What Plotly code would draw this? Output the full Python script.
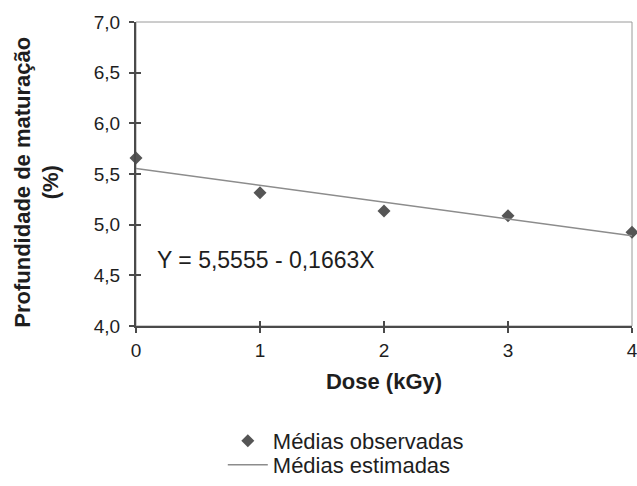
import plotly.graph_objects as go

# Observed means by irradiation dose
dose = [0, 1, 2, 3, 4]
observed = [5.657, 5.314, 5.135, 5.089, 4.925]

# Fitted linear regression
intercept = 5.5555
slope = -0.1663
fit_x = [0, 4]
fit_y = [intercept + slope * x for x in fit_x]

x_ticks = [0, 1, 2, 3, 4]
y_ticks = [4.0, 4.5, 5.0, 5.5, 6.0, 6.5, 7.0]

FONT = "Liberation Sans, Arial, sans-serif"
AXIS_COLOR = "#4a4a4a"
TEXT_COLOR = "#1e1e1e"

fig = go.Figure()
fig.add_trace(go.Scatter(
    x=dose, y=observed, mode="markers", name="Médias observadas",
    marker=dict(symbol="diamond", size=10, color="#555555"),
    cliponaxis=False, legend="legend",
))
fig.add_trace(go.Scatter(
    x=fit_x, y=fit_y, mode="lines", name="Médias estimadas",
    line=dict(color="#8c8c8c", width=1.5), legend="legend2",
))

eq_text = "Y = {:.4f} - {:.4f}X".format(intercept, -slope).replace(".", ",")
fig.add_annotation(
    x=0.15, y=4.65, xref="x", yref="y", text=eq_text, showarrow=False,
    xanchor="left", yanchor="middle",
    font=dict(family=FONT, size=23, color=TEXT_COLOR),
)

# vertical axis title
fig.add_annotation(
    x=-0.2, y=0.474, xref="paper", yref="paper", textangle=-90, showarrow=False,
    xanchor="center", yanchor="middle", align="center",
    text="<b>Profundidade de maturação<br>(%)</b>",
    font=dict(family=FONT, size=22, color=TEXT_COLOR),
)

# light frame on top and right of the plot area
fig.add_shape(type="rect", xref="x domain", yref="y domain", x0=0, x1=1, y0=0, y1=1,
              line=dict(color="#9a9a9a", width=1), layer="below")

axis_common = dict(showgrid=False, zeroline=False, showline=True, linecolor=AXIS_COLOR,
                   linewidth=2, ticks="outside", ticklen=5, tickwidth=2, tickcolor=AXIS_COLOR,
                   automargin=False,
                   tickfont=dict(family=FONT, size=19, color=TEXT_COLOR))

legend_common = dict(xanchor="left", yanchor="middle", font=dict(family=FONT, size=22, color=TEXT_COLOR),
                     itemwidth=40, bgcolor="rgba(0,0,0,0)", borderwidth=0)

fig.update_layout(
    width=637, height=486,
    margin=dict(l=136, r=5, t=22, b=160, autoexpand=False),
    paper_bgcolor="white", plot_bgcolor="white",
    separators=",.",
    showlegend=True,
    legend=dict(x=0.175, y=-0.378, **legend_common),
    legend2=dict(x=0.175, y=-0.457, **legend_common),
    xaxis=dict(range=[0, 4], tickvals=x_ticks, tickformat="d", ticklabelstandoff=1,
               ticklabeloverflow="allow",
               title=dict(text="<b>Dose (kGy)</b>", standoff=14,
                          font=dict(family=FONT, size=22, color=TEXT_COLOR)),
               **axis_common),
    yaxis=dict(range=[4.0, 7.0], tickvals=y_ticks, tickformat=".1f", ticklabelstandoff=5,
               **axis_common),
    # overlay axes giving the inner half of the crossing tick marks
    xaxis2=dict(overlaying="x", anchor="y", side="bottom", range=[0, 4], tickvals=x_ticks,
                ticks="inside", ticklen=5, tickwidth=2, tickcolor=AXIS_COLOR, automargin=False,
                showticklabels=False, showline=False, showgrid=False, zeroline=False),
    yaxis2=dict(overlaying="y", anchor="x", side="left", range=[4.0, 7.0], tickvals=y_ticks,
                ticks="inside", ticklen=5, tickwidth=2, tickcolor=AXIS_COLOR, automargin=False,
                showticklabels=False, showline=False, showgrid=False, zeroline=False),
)
# invisible trace so the overlay axes are drawn
fig.add_trace(go.Scatter(x=[None], y=[None], xaxis="x2", yaxis="y2",
                         showlegend=False, hoverinfo="skip"))

fig.write_html("out.html")
